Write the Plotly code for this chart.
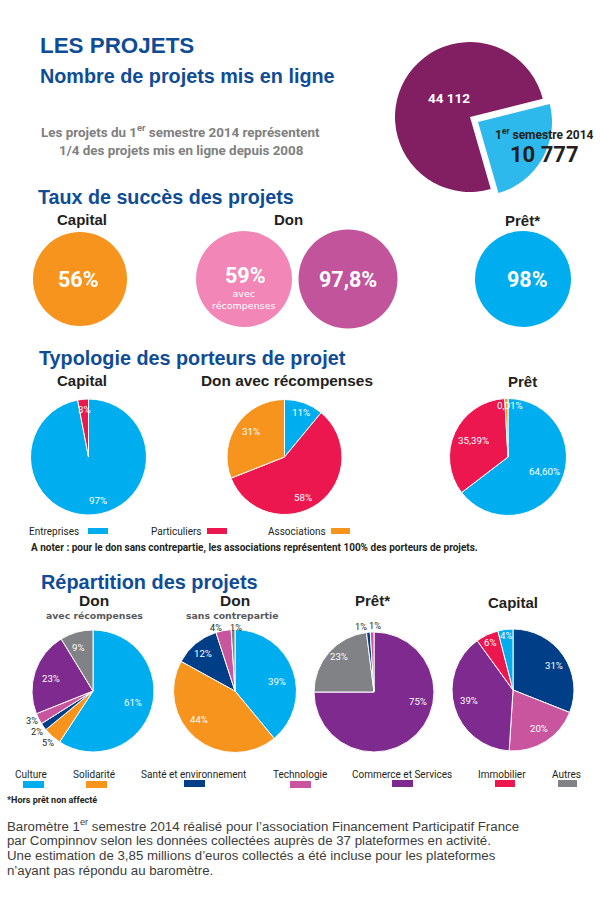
import plotly.graph_objects as go

W, H = 600, 909

BLUE_TITLE = "#0F4C96"
CYAN = "#00AEEF"
RED = "#ED174F"
ORANGE = "#F7941D"
NAVY = "#003F87"
PINK = "#C9559F"
PURPLE = "#7F2A8E"
GREY = "#808285"

NARROW = "Roboto"
SANS = "Liberation Sans"
WIDE = "DejaVu Sans"

# Nombre de projets
total_projets = 44112
projets_s1 = 10777
projets_labels = ["44 112", "10 777"]

# Taux de succes
succes_names = ["Capital", "Don avec récompenses", "Don sans contrepartie", "Prêt"]
succes_values = [56, 59, 97.8, 98]
succes_labels = ["56%", "59%", "97,8%", "98%"]

# Typologie des porteurs
porteurs = ["Entreprises", "Particuliers", "Associations"]
typo_capital = [97, 3]
typo_don = [11, 58, 31]
typo_pret = [64.6, 34.5, 0.9]
typo_capital_labels = ["97%", "3%"]
typo_don_labels = ["11%", "58%", "31%"]
typo_pret_labels = ["64,60%", "35,39%", "0,01%"]

# Repartition des projets
secteurs = ["Culture", "Solidarité", "Santé et environnement", "Technologie",
            "Commerce et Services", "Immobilier", "Autres"]
rep_don_avec = [61, 5, 2, 3, 23, 9]
rep_don_avec_secteurs = ["Culture", "Solidarité", "Santé et environnement", "Technologie", "Commerce et Services", "Autres"]
rep_don_sans = [39, 44, 12, 4, 1]
rep_don_sans_secteurs = ["Culture", "Solidarité", "Santé et environnement", "Technologie", "Autres"]
rep_pret = [75, 23, 1, 1]
rep_pret_secteurs = ["Commerce et Services", "Autres", "Santé et environnement", "Technologie"]
rep_capital = [31, 20, 39, 6, 4]
rep_capital_secteurs = ["Santé et environnement", "Technologie", "Commerce et Services", "Immobilier", "Culture"]

secteur_colors = dict(zip(secteurs, [CYAN, ORANGE, NAVY, PINK, PURPLE, RED, GREY]))
porteur_colors = [CYAN, RED, ORANGE]

fig = go.Figure()


def add_pie(values, colors, cx, cy, r, labels, rotation=0, line=1.0):
    # la position est donnee en pixels, centre + rayon
    fig.add_trace(go.Pie(
        values=values,
        labels=labels,
        marker=dict(colors=colors, line=dict(color="white", width=line)),
        domain=dict(x=[(cx - r) / W, (cx + r) / W],
                    y=[1 - (cy + r) / H, 1 - (cy - r) / H]),
        sort=False, direction="clockwise", rotation=rotation,
        textinfo="none", hoverinfo="label+percent", showlegend=False,
    ))


def txt(x, y, s, size, color="#231F20", bold=False, font=SANS, anchor="left"):
    if bold:
        s = "<b>" + s.replace("<br>", "</b><br><b>") + "</b>"
    fig.add_annotation(x=x / W, y=1 - y / H, xref="paper", yref="paper", text=s,
                       showarrow=False, xanchor=anchor, yanchor="middle", align=anchor,
                       font=dict(size=size, color=color, family=font),
                       borderpad=0, borderwidth=0)


def swatch(x0, x1, y0, y1, color):
    fig.add_shape(type="rect", xref="paper", yref="paper", x0=x0 / W, x1=x1 / W,
                  y0=1 - y1 / H, y1=1 - y0 / H, fillcolor=color, line_width=0)


# ---- camembert du haut : une trace par part pour placer la part sortie
reste = total_projets - projets_s1
parts = ["1er semestre 2014", "Avant"]
add_pie([projets_s1, reste], ["rgba(0,0,0,0)", "#821E62"], 470, 117, 75, parts, rotation=76, line=0)
add_pie([projets_s1, reste], ["#2DB9EC", "rgba(0,0,0,0)"], 478, 122, 74, parts, rotation=76, line=0)

txt(40, 45, "LES PROJETS", 22.4, BLUE_TITLE, True)
txt(39.5, 76, "Nombre de projets mis en ligne", 19.8, BLUE_TITLE, True)
txt(180, 131, "Les projets du 1<sup>er</sup> semestre 2014 représentent", 13.4, "#808080", True, NARROW, "center")
txt(181, 150, "1/4 des projets mis en ligne depuis 2008", 13.4, "#808080", True, NARROW, "center")
txt(449, 98, projets_labels[0], 13.5, "white", True, NARROW, "center")
txt(544, 134, "1<sup>er</sup> semestre 2014", 12, "#231F20", True, NARROW, "center")
txt(544, 154, projets_labels[1], 22, "#231F20", True, NARROW, "center")

# ---- taux de succes
txt(38, 197, "Taux de succès des projets", 19.7, BLUE_TITLE, True)
txt(82, 219, "Capital", 15, bold=True, anchor="center")
txt(288, 219, "Don", 15, bold=True, anchor="center")
txt(522, 220, "Prêt*", 15, bold=True, anchor="center")
succes_colors = [ORANGE, "#F287B7", "#C2549C", CYAN]
succes_pos = [(80, 279, 47), (244, 279, 48), (348, 279, 49.5), (523, 279, 48)]
for i, name in enumerate(succes_names):
    cx, cy, r = succes_pos[i]
    add_pie([succes_values[i]], [succes_colors[i]], cx, cy, r, [name], line=0)
txt(78, 279, succes_labels[0], 21.5, "white", True, NARROW, "center")
txt(245, 275.5, succes_labels[1], 21.5, "white", True, NARROW, "center")
txt(244, 299.5, "avec<br>récompenses", 9.5, "white", font=WIDE, anchor="center")
txt(348, 279, succes_labels[2], 21.5, "white", True, NARROW, "center")
txt(527, 279, succes_labels[3], 21.5, "white", True, NARROW, "center")

# ---- typologie
txt(39, 358, "Typologie des porteurs de projet", 19.8, BLUE_TITLE, True)
txt(82, 380, "Capital", 15, bold=True, anchor="center")
txt(287, 380, "Don avec récompenses", 15.4, bold=True, anchor="center")
txt(522, 381, "Prêt", 15, bold=True, anchor="center")
add_pie(typo_capital, porteur_colors[:2], 88.5, 457, 58, porteurs[:2])
add_pie(typo_don, porteur_colors, 284.5, 457, 57.5, porteurs)
add_pie(typo_pret, porteur_colors, 508, 457, 58.5, porteurs)
for x, y, s in [(98, 500, typo_capital_labels[0]), (84, 409, typo_capital_labels[1]),
                (301, 412, typo_don_labels[0]), (303, 497, typo_don_labels[1]), (251, 431, typo_don_labels[2]),
                (544, 471, typo_pret_labels[0]), (473, 440, typo_pret_labels[1]), (510, 406, typo_pret_labels[2])]:
    txt(x, y, s, 9.8, "white", False, NARROW, "center")

txt(29, 531, porteurs[0], 10, "#231F20", False, NARROW)
txt(151, 531, porteurs[1], 10, "#231F20", False, NARROW)
txt(268, 531, porteurs[2], 10, "#231F20", False, NARROW)
swatch(88, 108, 528, 534, porteur_colors[0])
swatch(207, 227, 528, 534, porteur_colors[1])
swatch(331, 350, 528, 534, porteur_colors[2])
txt(31, 548, "A noter : pour le don sans contrepartie, les associations représentent 100% des porteurs de projets.",
    10, "#231F20", True, NARROW)

# ---- repartition
txt(41, 582, "Répartition des projets", 19.9, BLUE_TITLE, True)
txt(94, 600.5, "Don", 15.5, bold=True, anchor="center")
txt(94, 615.5, "avec récompenses", 9.3, "#58595B", True, WIDE, "center")
txt(235, 600.5, "Don", 15.5, bold=True, anchor="center")
txt(233, 615.5, "sans contrepartie", 9.3, "#58595B", True, WIDE, "center")
txt(372, 600, "Prêt*", 15, bold=True, anchor="center")
txt(513, 602, "Capital", 15, bold=True, anchor="center")

add_pie(rep_don_avec, [secteur_colors[s] for s in rep_don_avec_secteurs], 93, 691, 61, rep_don_avec_secteurs)
add_pie(rep_don_sans, [secteur_colors[s] for s in rep_don_sans_secteurs], 235, 691, 61.5, rep_don_sans_secteurs)
add_pie(rep_pret, [secteur_colors[s] for s in rep_pret_secteurs], 374, 692, 60, rep_pret_secteurs)
add_pie(rep_capital, [secteur_colors[s] for s in rep_capital_secteurs], 513, 690, 61, rep_capital_secteurs)

rep_white = [(133, 702, "61%"), (51, 678, "23%"), (78, 647, "9%"),
             (277, 681, "39%"), (199, 719, "44%"), (203, 653, "12%"),
             (418, 701, "75%"), (339, 656, "23%"),
             (554, 665, "31%"), (539, 728, "20%"), (469, 700, "39%"), (490, 642, "6%"), (506, 635, "4%")]
for x, y, s in rep_white:
    txt(x, y, s, 9.6, "white", False, NARROW, "center")
rep_dark = [(32, 720.5, "3%"), (37, 731.5, "2%"), (48, 742, "5%"),
            (216, 627, "4%"), (236, 627, "1%"),
            (361, 626, "1%"), (375, 625, "1%")]
for x, y, s in rep_dark:
    txt(x, y, s, 9.2, "#231F20", False, NARROW, "center")

leg_x = [31, 94, 194, 300, 402, 502, 566]
swatch_x = [(23, 44), (86, 107), (184, 205), (290, 311), (392, 413), (495, 515), (558, 577)]
swatch_y = [(781, 788), (781, 788), (780, 787), (781, 788), (780, 787), (780, 787), (780, 787)]
for i, s in enumerate(secteurs):
    txt(leg_x[i], 774, s, 10, "#231F20", False, NARROW, "center")
    swatch(swatch_x[i][0], swatch_x[i][1], swatch_y[i][0], swatch_y[i][1], secteur_colors[s])

txt(7, 800, "*Hors prêt non affecté", 9, "#231F20", True, NARROW)

notes = ["Baromètre 1<sup>er</sup> semestre 2014 réalisé pour l’association Financement Participatif France",
         "par Compinnov selon les données collectées auprès de 37 plateformes en activité.",
         "Une estimation de 3,85 millions d’euros collectés a été incluse pour les plateformes",
         "n’ayant pas répondu au baromètre."]
for i, line in enumerate(notes):
    txt(7, 825 + i * 15, line, 13.25, "#3C3C3C")

fig.update_layout(width=W, height=H, margin=dict(l=0, r=0, t=0, b=0),
                  paper_bgcolor="white", plot_bgcolor="white", showlegend=False)

fig.write_html("out.html", config={"displayModeBar": False},
               post_script="document.body.style.margin='0';")
